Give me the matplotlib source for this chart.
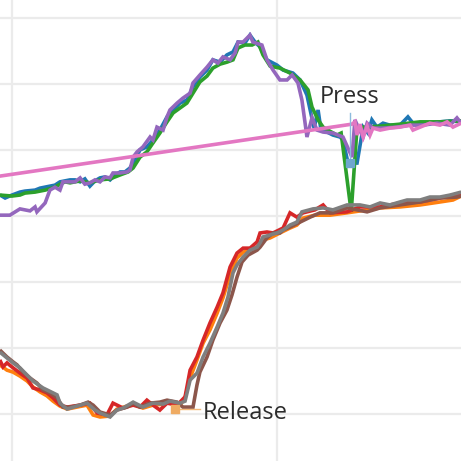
import matplotlib
matplotlib.use("Agg")
import matplotlib.pyplot as plt
from matplotlib.ticker import MultipleLocator

# ---------------- data (time, value) ----------------
blue_t = [-4.5, -2.6, 0, 3.0, 4.9, 8.7, 10.6, 14.3, 16.2, 18.1, 20.0, 21.9, 23.8, 25.7, 27.5, 29.4, 31.3, 33.2,
          35.1, 37.0, 38.9, 40.8, 42.6, 44.5, 46.4, 48.3, 50.9, 53.2, 55.8, 58.5, 60.8, 63.4, 66.0, 68.3, 70.9,
          73.6, 75.8, 78.5, 81.1, 83.4, 85.3, 87.9, 89.8, 91.7, 93.6, 96.2, 100, 102.3, 106.0, 108.7, 111.3,
          114.0, 115.5, 116.6, 118.9, 121.1, 123.8, 124.9, 126.8, 130.2, 132.5, 134.3, 135.8, 137.7, 140.0,
          142.6, 146.4, 149.4, 151.3, 156.6, 161.5, 165.3, 169.5]
blue_v = [66.4, 65.5, 66.4, 67.3, 67.6, 67.9, 68.5, 69.1, 69.4, 70.4, 70.7, 71.0, 71.0, 70.4, 71.3, 69.1, 70.7, 71.6,
          71.9, 71.0, 72.5, 73.4, 73.4, 74.6, 77.0, 80.1, 81.0, 83.1, 86.1, 90.1, 92.2, 94.3, 95.2, 99.2, 102.2,
          104.3, 107.4, 106.7, 108.9, 109.8, 112.8, 112.5, 114.9, 112.8, 111.3, 107.4, 105.8, 104.3, 103.4, 101.3,
          96.7, 86.7, 92.2, 86.1, 85.5, 84.6, 84.0, 83.1, 76.1, 76.1, 87.0, 85.2, 89.2, 87.0, 88.2,
          87.6, 87.6, 90.1, 88.2, 88.2, 88.6, 88.9, 88.6]

orange_t = [-4.6, -1.9, 0.4, 3.0, 5.7, 7.9, 10.6, 13.2, 15.5, 18.1, 20.8, 24.5, 28.3, 30.6, 33.2, 37.0, 39.6, 43.4,
            45.7, 49.4, 53.2, 57.0, 59.6, 63.4, 65.3, 67.2, 69.8, 72.1, 74.7, 77.4, 79.6, 82.3, 84.9, 87.2, 89.8,
            92.5, 94.7, 97.4, 101.1, 104.9, 107.5, 109.8, 114.3, 120.0, 126.4, 134.0, 138.9, 146.4, 154.0, 161.5,
            166.4, 169.5]
orange_v = [14.9, 13.3, 12.7, 11.5, 10.0, 8.2, 6.7, 5.5, 3.9, 2.4, 1.5, 2.1, 2.7, -0.3, -0.9, -0.6, 1.5, 2.4,
            3.0, 1.8, 2.7, 3.0, 3.6, 2.7, 4.9, 10.9, 16.4, 21.5, 25.5, 30.6, 35.2, 42.2, 47.3, 49.1, 49.7,
            50.6, 52.8, 53.4, 54.9, 56.4, 57.3, 59.4, 60.3, 60.3, 61.0, 61.9, 62.5, 62.8, 63.4, 64.3,
            64.9, 66.1]

green_t = [-4.6, 0, 3.0, 4.9, 8.7, 12.5, 16.2, 18.1, 20.0, 21.9, 25.7, 29.4, 33.2, 37.0, 40.8, 43.8, 45.7, 48.3,
           50.9, 53.2, 55.8, 58.5, 60.8, 63.4, 66.0, 68.3, 70.9, 73.6, 75.8, 78.5, 81.1, 83.4, 85.3, 87.9, 90.6,
           92.8, 94.7, 97.4, 101.1, 104.9, 108.7, 111.7, 113.2, 115.5, 117.4, 119.2, 122.6, 124.2, 128.0, 130.2,
           133.2, 138.9, 146.4, 154.0, 161.5, 169.5]
green_v = [66.4, 66.1, 66.4, 67.0, 67.3, 67.9, 68.8, 69.7, 70.4, 70.1, 70.7, 70.1, 71.0, 71.3, 72.5, 73.4, 74.6, 77.9,
           79.5, 82.2, 85.2, 88.6, 91.3, 92.8, 94.3, 97.3, 100.7, 102.5, 104.9, 106.1, 106.7, 107.4, 111.0, 111.9, 111.9,
           112.8, 108.9, 105.5, 104.9, 103.4, 101.3, 98.3, 93.1, 89.2, 87.0, 86.1, 84.6, 85.2, 61.3, 87.0,
           87.0, 87.3, 87.9, 88.6, 88.6, 88.9]

red_t = [-4.6, -3.4, -1.9, 0.4, 3.0, 5.7, 7.9, 10.6, 13.2, 15.5, 18.1, 20.8, 25.7, 29.4, 32.1, 35.8, 38.1, 41.9,
         45.7, 48.3, 50.9, 53.2, 55.8, 58.5, 62.3, 65.3, 67.2, 69.8, 72.1, 74.7, 77.4, 79.6, 82.3, 84.9, 87.2,
         89.8, 92.5, 93.6, 96.2, 98.5, 102.3, 104.9, 107.5, 109.8, 114.3, 117.4, 120.0, 126.4, 131.3, 138.9,
         146.4, 154.0, 161.5, 166.4, 169.5]
red_v = [16.4, 14.3, 15.5, 14.0, 12.4, 10.9, 7.9, 7.3, 6.4, 4.9, 2.7, 2.1, 2.7, 3.3, 0.3, -0.3, 3.3, 1.8,
         2.7, 2.1, 4.2, 2.7, 1.2, 3.3, 2.7, 5.2, 13.3, 17.3, 22.4, 27.6, 32.4, 36.7, 44.6, 48.8, 50.3,
         50.3, 52.2, 54.9, 55.2, 54.9, 56.4, 61.0, 59.7, 61.0, 61.9, 63.4, 61.0, 61.3, 62.8, 62.8,
         64.0, 64.3, 65.5, 66.4, 67.0]

purple_t = [-4.6, -0.8, 3.0, 6.8, 8.7, 9.4, 12.5, 14.3, 16.2, 18.1, 19.2, 21.9, 23.8, 25.7, 27.5, 29.4, 31.3, 33.2,
            35.1, 37.0, 38.1, 40.8, 43.4, 44.5, 45.7, 47.2, 49.4, 52.1, 53.2, 54.7, 57.0, 58.5, 59.6, 62.3, 64.5,
            67.2, 68.3, 70.9, 73.6, 75.8, 77.7, 79.6, 82.3, 84.2, 85.3, 87.2, 89.8, 90.9, 94.3, 96.2, 98.5,
            101.1, 103.8, 105.7, 107.9, 109.4, 110.6, 111.3, 113.2, 115.1, 117.4, 121.1, 124.9, 128.3, 129.4,
            130.6, 132.5, 134.0, 136.2, 140.0, 145.3, 150.2, 155.1, 160.4, 165.3, 167.9, 169.5]
purple_v = [60.3, 60.3, 62.2, 61.6, 62.8, 61.3, 64.0, 67.9, 68.8, 67.9, 70.4, 70.4, 70.4, 71.6, 69.7, 70.1, 71.0, 70.4,
            71.9, 71.6, 73.1, 73.1, 73.4, 74.0, 77.9, 79.5, 81.0, 84.0, 83.1, 87.0, 86.1, 90.1, 92.2, 94.3, 95.8,
            97.3, 100.4, 102.8, 105.2, 107.4, 106.4, 108.3, 107.4, 109.5, 112.8, 112.8, 114.9, 112.8, 111.9, 107.4, 104.3,
            101.3, 101.3, 102.8, 100.4, 95.2, 88.2, 84.0, 89.8, 86.1, 85.5, 85.2, 84.0, 77.9, 89.2,
            87.0, 84.0, 88.2, 86.7, 86.7, 87.0, 87.6, 87.6, 88.2, 87.6, 89.8, 88.2]

brown_t = [-4.6, -1.9, 0.4, 1.9, 4.2, 6.8, 9.4, 11.7, 14.3, 17.0, 19.2, 21.9, 25.7, 28.7, 30.6, 33.2, 37.0, 39.6,
           43.4, 45.7, 48.3, 52.1, 55.8, 58.5, 62.3, 64.5, 68.3, 69.8, 70.9, 73.6, 75.8, 78.5, 81.1, 83.0, 84.9,
           86.8, 89.1, 92.5, 93.6, 96.2, 98.5, 101.1, 102.3, 104.9, 108.7, 112.5, 116.2, 121.1, 126.4, 134.0,
           138.9, 146.4, 154.0, 161.5, 167.9, 169.5]
brown_v = [19.4, 17.3, 15.8, 14.9, 12.7, 10.9, 9.4, 7.3, 6.4, 4.9, 2.1, 2.1, 2.7, 3.6, 2.7, 0.6, -0.3, 1.2,
           2.1, 3.3, 2.1, 3.3, 3.6, 4.2, 3.6, 2.1, 2.1, 8.8, 12.7, 17.3, 22.4, 27.6, 31.5, 36.1, 41.5,
           46.1, 48.2, 49.7, 50.6, 53.4, 54.9, 54.9, 55.8, 56.7, 58.2, 59.7, 61.0, 61.0, 62.5, 61.3,
           62.5, 63.4, 64.3, 65.5, 65.8, 66.1]

pink_t = [-8.3, 128.3, 129.4, 130.2, 131.3, 132.5, 134.0, 135.1, 136.2, 138.9, 142.6, 146.4, 150.2, 151.3, 154.0,
          157.7, 161.5, 164.2, 166.4, 169.5]
pink_v = [71.7, 87.9, 88.6, 84.6, 87.9, 84.0, 87.3, 84.6, 86.7, 86.1, 86.7, 87.0, 87.6, 86.1, 87.0,
          88.2, 87.6, 88.6, 87.0, 88.2]

gray_t = [-4.6, -1.9, 0.4, 3.0, 5.7, 7.9, 11.7, 15.5, 17.0, 18.1, 20.8, 24.5, 28.3, 31.3, 33.2, 37.0, 39.6, 41.9,
          45.7, 49.4, 53.2, 57.0, 59.6, 63.4, 65.3, 67.2, 69.8, 72.1, 74.7, 77.4, 79.6, 81.5, 83.4, 84.9, 87.2,
          89.8, 92.5, 93.6, 94.7, 97.4, 100, 102.3, 104.9, 107.5, 109.4, 113.6, 117.4, 121.1, 126.4, 131.3,
          135.1, 138.9, 142.6, 146.4, 149.1, 154.0, 157.7, 161.5, 165.3, 169.5]
gray_v = [18.8, 17.0, 15.5, 14.0, 11.8, 10.0, 7.9, 6.4, 5.8, 3.3, 1.5, 2.4, 3.3, 1.2, 0.3, -0.9, 1.2, 1.8,
          3.6, 2.1, 3.3, 3.0, 3.9, 3.3, 3.9, 10.3, 12.4, 17.3, 21.5, 26.4, 30.6, 35.5, 42.8, 45.2, 47.6,
          49.7, 50.6, 51.9, 53.7, 54.3, 54.9, 55.8, 57.3, 58.2, 61.3, 62.2, 62.5, 61.9, 63.4, 63.4,
          62.8, 64.0, 63.4, 64.3, 64.9, 64.9, 65.8, 65.8, 66.4, 67.3]

# annotations
press_label = "Press"
press_t = 127.5
press_v = 76.1
press_top = 91.3
release_label = "Release"
release_t = 61.5
release_v = 1.5
release_end = 70.9

series = [
    (blue_t, blue_v, "#1f77b4"),
    (orange_t, orange_v, "#ff7f0e"),
    (green_t, green_v, "#2ca02c"),
    (red_t, red_v, "#d62728"),
    (purple_t, purple_v, "#9467bd"),
    (brown_t, brown_v, "#8c564b"),
    (pink_t, pink_v, "#e377c2"),
    (gray_t, gray_v, "#7f7f7f"),
]

fig = plt.figure(figsize=(4.61, 4.61), dpi=100)
ax = fig.add_axes([0, 0, 1, 1])
ax.set_xlim(-4.53, 169.43)
ax.set_ylim(-14.25, 125.55)
ax.xaxis.set_major_locator(MultipleLocator(100))
ax.yaxis.set_major_locator(MultipleLocator(20))
ax.grid(True, color="#ebebeb", linewidth=1.6)
ax.set_axisbelow(True)
for s in ax.spines.values():
    s.set_visible(False)
ax.tick_params(length=0, labelleft=False, labelbottom=False)

for t, v, c in series:
    ax.plot(t, v, color=c, linewidth=2.6, solid_joinstyle="miter", solid_capstyle="butt")

# Press annotation
ax.plot([press_t, press_t], [press_v, press_top], color="#8dbbdd", linewidth=1.0, zorder=5)
ax.plot([press_t], [press_v], marker="s", markersize=6, color="#6fa6cf", zorder=6, linestyle="none")
ax.text(press_t, press_top + 3.0, press_label, ha="center", va="baseline",
        fontsize=17, family="Open Sans", color="#2b2b2b")

# Release annotation
ax.plot([release_t, release_end], [release_v, release_v], color="#f3b878", linewidth=1.0, zorder=5)
ax.plot([release_t], [release_v], marker="s", markersize=6, color="#efab62", zorder=6, linestyle="none")
ax.text(release_end + 1.2, release_v - 3.0, release_label, ha="left", va="baseline",
        fontsize=17, family="Open Sans", color="#2b2b2b")

fig.savefig("out.png", dpi=100)
